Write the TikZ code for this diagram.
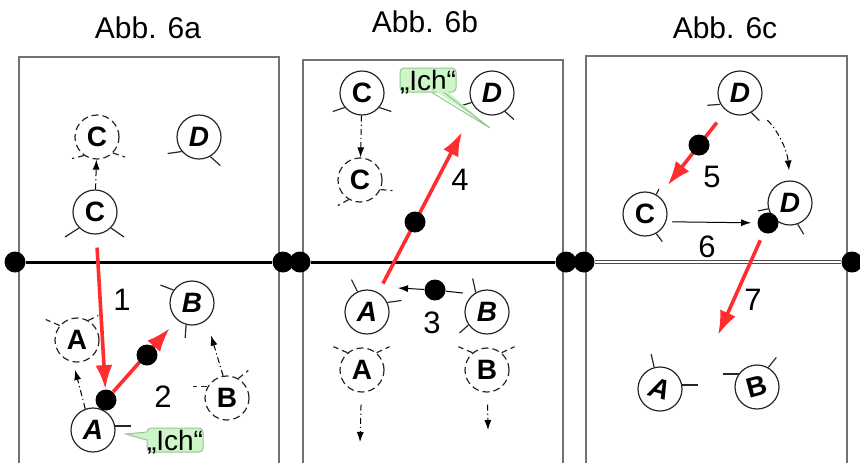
\documentclass[tikz,border=0pt]{standalone}
\usepackage{fontspec}
\setmainfont{Liberation Sans}
\usepackage{graphicx}
\usetikzlibrary{arrows.meta}
\definecolor{movered}{RGB}{255,45,45}
\definecolor{bubblegreen}{RGB}{205,245,200}
\definecolor{bubbleedge}{RGB}{150,195,150}
\tikzset{
  actor/.style      = {draw=black!85, circle, line width=0.6pt, minimum size=22pt,
                       inner sep=0pt, font=\fontsize{14}{16}\selectfont\bfseries},
  ghost/.style      = {actor, dash pattern=on 3.5pt off 2pt},
  handline/.style   = {draw=black!85, line width=0.6pt},
  ghosthand/.style  = {handline, dash pattern=on 3pt off 2pt},
  joint/.style      = {circle, fill=black, minimum size=10.5pt, inner sep=0pt},
  wall/.style       = {line width=1.5pt},
  panel/.style      = {draw=black!55, line width=0.8pt},
  redmove/.style    = {-{Latex[length=12pt,width=8.5pt]}, movered, line width=1.8pt},
  tracearrow/.style = {->, line width=0.5pt, dash pattern=on 3pt off 1.5pt on 0.6pt off 1.5pt},
  plainarrow/.style = {->, line width=0.5pt},
  bubble/.style     = {fill=bubblegreen, draw=bubbleedge, line width=0.5pt, rounded corners=2pt,
                       inner xsep=0pt, inner ysep=1pt, text height=10pt, text depth=0pt,
                       font=\fontsize{14}{16}\selectfont},
  num/.style        = {font=\fontsize{15.5}{18}\selectfont},
  caption/.style    = {font=\fontsize{15}{18}\selectfont}
}

\begin{document}
\begin{tikzpicture}[x=0.5pt, y=-0.5pt, >={Latex[length=5pt,width=3.5pt]}]
\useasboundingbox (0,0) rectangle (860,463);

% headings
\node[caption] (t1) at (148,28) {Abb. 6a};
\node[caption] (t2) at (425,22) {Abb. 6b};
\node[caption] (t3) at (725,28) {Abb. 6c};

% frames of the three panels
\draw[panel] (19,463) |- (279,57) -- (279,463);
\draw[panel] (303,463) |- (563,60) -- (563,463);
\draw[panel] (586,463) |- (847,56) -- (847,463);

% the persons, panel a
\node[ghost] (aC2) at (97,137) {C};
\node[actor] (aC) at (95,212) {C};
\node[actor] (aD) at (199,137) {\itshape D};
\node[ghost] (aA2) at (77,340) {A};
\node[actor] (aA) at (93,430) {\itshape A};
\node[actor] (aB) at (192,303) {\itshape B};
\node[ghost] (aB2) at (227,398) {B};

% panel b
\node[actor] (bC) at (362,93) {C};
\node[ghost] (bC2) at (360,180) {C};
\node[actor] (bD) at (492,93) {\itshape D};
\node[actor] (bA) at (367,312) {\itshape A};
\node[actor] (bB) at (487,312) {\itshape B};
\node[ghost] (bA2) at (362,370) {A};
\node[ghost] (bB2) at (487,370) {B};

% panel c
\node[actor] (cD) at (740,93) {\itshape D};
\node[actor] (cC) at (645,214) {C};
\node[actor] (cD2) at (790,203) {\itshape D};
\node[actor] (cA) at (660,389) {\rotatebox{-15}{\itshape A}};
\node[actor] (cB) at (757,387) {\rotatebox{15}{B}};

% little arms and legs
\foreach \n/\a/\dx/\dy in {aC/225/-14/9, aC/315/13/9, aD/220/-14/2, aD/300/10/9,
    aA/10/16/0, aB/145/-13/-5, aB/255/-1/13,
    bC/220/-12/4, bC/320/12/4, bD/205/-10/3, bD/305/9/8,
    bA/115/-6/-12, bA/25/14/-2, bB/120/-3/-14, bB/215/-9/8,
    cD/210/-13/1, cD/300/8/8, cC/-60/6/8, cD2/-70/6/10, cD2/195/-10/2,
    cA/105/-3/-13, cA/10/16/0, cB/145/-16/0, cB/60/8/-10}
  \draw[handline] (\n.\a) -- ++(\dx,\dy);
\foreach \n/\a/\dx/\dy in {aC2/235/-12/3, aC2/315/12/4, aA2/140/-14/-6, aA2/60/10/-5,
    aB2/150/-14/0, aB2/60/10/-8, bC2/240/-11/6, bC2/335/12/1,
    bA2/130/-14/-6, bA2/50/13/-6, bB2/130/-14/-6, bB2/50/13/-6, cC/60/4/-8}
  \draw[ghosthand] (\n.\a) -- ++(\dx,\dy);

% the wall and its posts
\foreach \n/\x in {w1/15, w2/283, w3/300, w4/566, w5/584, w6/852}
  \node[joint] (\n) at (\x,262) {};
\draw[wall] (w1) -- (w2);
\draw[wall] (w3) -- (w4);
\draw[draw=black!70, line width=0.5pt, double=white, double distance=1.2pt] (w5) -- (w6);

% contact points
\node[joint] (ad1) at (106,400) {};
\node[joint] (bd1) at (435,290) {};
\node[joint] (cd2) at (768,223) {};
\coordinate (bAhand) at (398,288);
\coordinate (bBhand) at (463,293);
\coordinate (bAgoal) at (462,132);
\coordinate (bAdown) at (360,442);
\coordinate (bBdown) at (488,430);
\coordinate (cgoal) at (718,335);

% where the persons go
\draw[tracearrow] (aC) -- (aC2);
\draw[tracearrow, shorten >=4pt] (aA.110) -- (aA2.260);
\draw[tracearrow, shorten >=8pt] (aB2.100) -- (aB.-50);
\draw[tracearrow] (bC) -- (bC2);
\draw[tracearrow, shorten <=6pt] (bA2) -- (bAdown);
\draw[tracearrow, shorten <=6pt] (bB2) -- (bBdown);
\draw[tracearrow, shorten <=8pt, shorten >=5pt] (cD.-45) to[bend left=20] (cD2.north);
\draw[line width=0.5pt] (bBhand) -- (bd1);
\draw[plainarrow] (bd1) -- (bAhand);
\draw[plainarrow, shorten <=3pt, shorten >=3pt] (cC.-20) -- (cd2);

% numbered moves
\draw[redmove, shorten <=6.5pt] (aC) -- (ad1);
\draw[redmove, shorten >=5.5pt] (ad1) -- (aB);
\draw[redmove, shorten <=5pt] (bA.60) -- (bAgoal);
\draw[redmove, shorten <=7.5pt, shorten >=7pt] (cD) -- (cC);
\draw[redmove, shorten <=4pt] (cd2) -- (cgoal);
\node[joint] (ad2) at (147,355) {};
\node[joint] (bd2) at (415,222) {};
\node[joint] (cd1) at (699,145) {};

\node[num] (n1) at (122,300) {1};
\node[num] (n2) at (163,397) {2};
\node[num] (n3) at (432,323) {3};
\node[num] (n4) at (460,180) {4};
\node[num] (n5) at (712,177) {5};
\node[num] (n6) at (707,247) {6};
\node[num] (n7) at (753,300) {7};

% speech bubbles
\node[bubble] (abub) at (175,440) {„Ich“};
\coordinate (atip) at (126,434);
\fill[bubblegreen] ([xshift=2pt,yshift=4pt]abub.west) -- (atip) -- ([xshift=2pt]abub.west) -- cycle;
\draw[bubbleedge, line width=0.5pt] ([yshift=4pt]abub.west) -- (atip) -- (abub.west);

\node[bubble] (bbub) at (428,80) {„Ich“};
\coordinate (btip) at (490,128);
\fill[bubblegreen] ([xshift=2pt,yshift=2pt]bbub.south) -- (btip) -- ([xshift=8pt,yshift=2pt]bbub.south) -- cycle;
\draw[bubbleedge, line width=0.5pt] ([xshift=2pt]bbub.south) -- (btip) -- ([xshift=8pt]bbub.south);
\end{tikzpicture}
\end{document}
